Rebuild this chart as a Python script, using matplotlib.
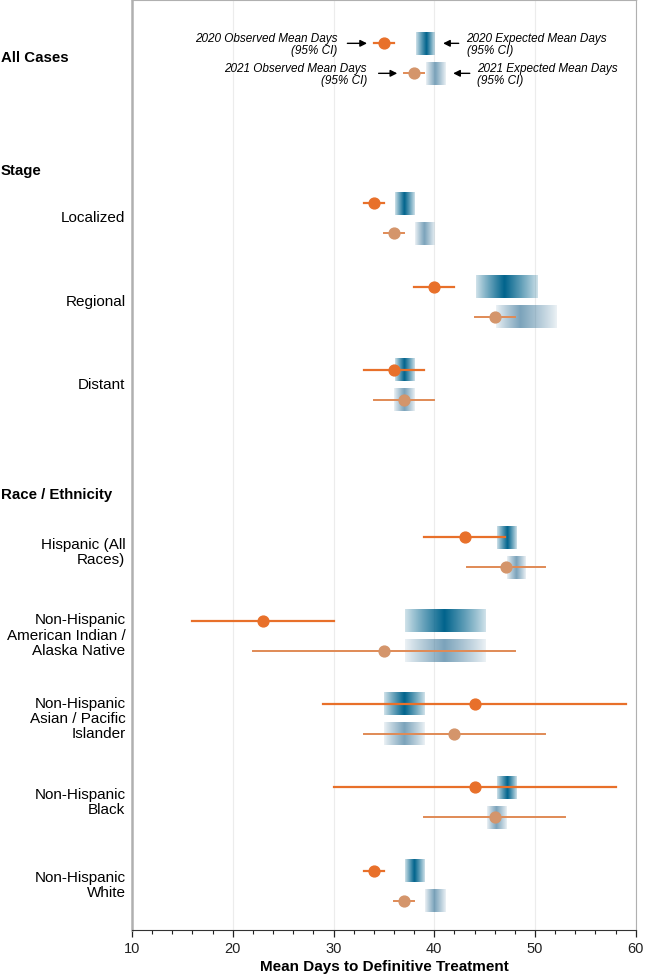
import numpy as np
import matplotlib
matplotlib.use("Agg")
import matplotlib.pyplot as plt
from matplotlib.ticker import MultipleLocator

plt.rcParams['font.family'] = ['Liberation Sans', 'DejaVu Sans']

# data (mean days to definitive treatment)
categories = ["All Cases", "Localized", "Regional", "Distant",
              "Hispanic (All\nRaces)",
              "Non-Hispanic\nAmerican Indian /\nAlaska Native",
              "Non-Hispanic\nAsian / Pacific\nIslander",
              "Non-Hispanic\nBlack", "Non-Hispanic\nWhite"]
headers = ["Stage", "Race / Ethnicity"]

obs2020 = [35, 34, 40, 36, 43, 23, 44, 44, 34]
obs2020_lo = [34, 33, 38, 33, 39, 16, 29, 30, 33]
obs2020_hi = [36, 35, 42, 39, 47, 30, 59, 58, 35]
exp2020 = [39.2, 37, 46.9, 37, 47.2, 41, 37, 47.2, 38]
exp2020_lo = [38.2, 36.1, 44.1, 36.1, 46.2, 37.1, 35, 46.2, 37.1]
exp2020_hi = [40, 38, 50.2, 38, 48.1, 45.1, 39, 48.1, 39]

obs2021 = [38, 36, 46, 37, 47.1, 35, 42, 46, 37]
obs2021_lo = [37, 35, 44, 34, 43.2, 22, 33, 39, 36]
obs2021_hi = [39, 37, 48, 40, 51, 48, 51, 53, 38]
exp2021 = [40.1, 39, 48.5, 37, 48.1, 41, 37, 46.1, 40]
exp2021_lo = [39.2, 38.1, 46.1, 36, 47.2, 37.1, 35, 45.2, 39.1]
exp2021_hi = [41.1, 40, 52.1, 38, 49, 45.1, 39, 47.1, 41.1]

# layout (rows in slot units, top to bottom)
cat_pos = [0.70, 2.62, 3.62, 4.62, 6.63, 7.63, 8.63, 9.63, 10.63]
header_pos = [2.05, 5.94]
off = 0.18
band_h = 0.27

c_obs20 = '#e8702a'
c_obs21 = '#d4956b'
c_line21 = '#e08a55'
c_exp = np.array([0.0, 0.39, 0.55])


def band(ax, lo, hi, mid, y, amax, amin, light):
    xs = np.linspace(lo, hi, 300)
    d = np.where(xs < mid, (mid - xs) / (mid - lo), (xs - mid) / (hi - mid))
    a = amin + (amax - amin) * (1 - np.clip(d, 0, 1)) ** 0.9
    img = np.zeros((1, len(xs), 4))
    rgb = c_exp if not light else np.array([0.28, 0.50, 0.63])
    img[..., :3] = rgb
    img[..., 3] = a
    ax.imshow(img, extent=[lo, hi, y + band_h / 2, y - band_h / 2],
              aspect='auto', interpolation='bilinear', zorder=2)


fig = plt.figure(figsize=(6.45, 9.75), dpi=100)
ax = fig.add_axes([0.2047, 0.0462, 0.781, 0.9538])

for i, y in enumerate(cat_pos):
    y1, y2 = y - off, y + off
    band(ax, exp2020_lo[i], exp2020_hi[i], exp2020[i], y1, 1.0, 0.18, False)
    band(ax, exp2021_lo[i], exp2021_hi[i], exp2021[i], y2, 0.72, 0.1, True)
    ax.plot([obs2020_lo[i], obs2020_hi[i]], [y1, y1], color=c_obs20, lw=1.6, zorder=3)
    ax.plot(obs2020[i], y1, 'o', color=c_obs20, ms=7.8, zorder=4)
    ax.plot([obs2021_lo[i], obs2021_hi[i]], [y2, y2], color=c_line21, lw=1.4, zorder=3)
    ax.plot(obs2021[i], y2, 'o', color=c_obs21, ms=7.8, zorder=4)

# legend annotations in the All Cases row
ya, yb = cat_pos[0] - off, cat_pos[0] + off
tkw = dict(fontsize=8.5, style='italic', va='center', linespacing=1.05)
akw = dict(arrowstyle='-|>', color='black', lw=1.0, mutation_scale=10)
ax.text(30.4, ya + 0.02, "2020 Observed Mean Days\n(95% CI)", ha='right', **tkw)
ax.annotate("", xy=(33.6, ya), xytext=(31.1, ya), arrowprops=akw)
ax.text(43.2, ya + 0.02, "2020 Expected Mean Days\n(95% CI)", ha='left', **tkw)
ax.annotate("", xy=(40.6, ya), xytext=(42.7, ya), arrowprops=akw)
ax.text(33.3, yb + 0.02, "2021 Observed Mean Days\n(95% CI)", ha='right', **tkw)
ax.annotate("", xy=(36.6, yb), xytext=(34.2, yb), arrowprops=akw)
ax.text(44.2, yb + 0.02, "2021 Expected Mean Days\n(95% CI)", ha='left', **tkw)
ax.annotate("", xy=(41.6, yb), xytext=(43.8, yb), arrowprops=akw)

# row labels
trans = ax.get_yaxis_transform()
ax.text(-0.26, cat_pos[0], categories[0], transform=trans, ha='left', va='center',
        fontsize=10.8, fontweight='bold')
for hp, h in zip(header_pos, headers):
    ax.text(-0.26, hp, h, transform=trans, ha='left', va='center',
            fontsize=10.8, fontweight='bold')
for y, c in zip(cat_pos[1:], categories[1:]):
    ax.text(-0.013, y, c, transform=trans, ha='right', va='center',
            fontsize=11, linespacing=1.12)

ax.set_xlim(10, 60)
ax.set_ylim(11.16, 0)
ax.set_yticks([])
ax.xaxis.set_major_locator(MultipleLocator(10))
ax.xaxis.set_minor_locator(MultipleLocator(2))
ax.tick_params(axis='x', which='both', top=True, labelsize=10.5, colors='#222222')
ax.tick_params(axis='x', which='major', length=5, width=0.9)
ax.tick_params(axis='x', which='minor', length=3, width=0.8)
ax.grid(axis='x', which='major', color='#ececec', lw=0.8, zorder=0)
ax.set_axisbelow(True)
for s in ['left', 'right', 'top']:
    ax.spines[s].set_color('#b0b0b0')
ax.spines['left'].set_linewidth(1.8)
ax.spines['bottom'].set_color('#333333')
ax.set_xlabel("Mean Days to Definitive Treatment", fontsize=11, fontweight='bold',
              labelpad=3)

fig.savefig("out.png", dpi=100)
